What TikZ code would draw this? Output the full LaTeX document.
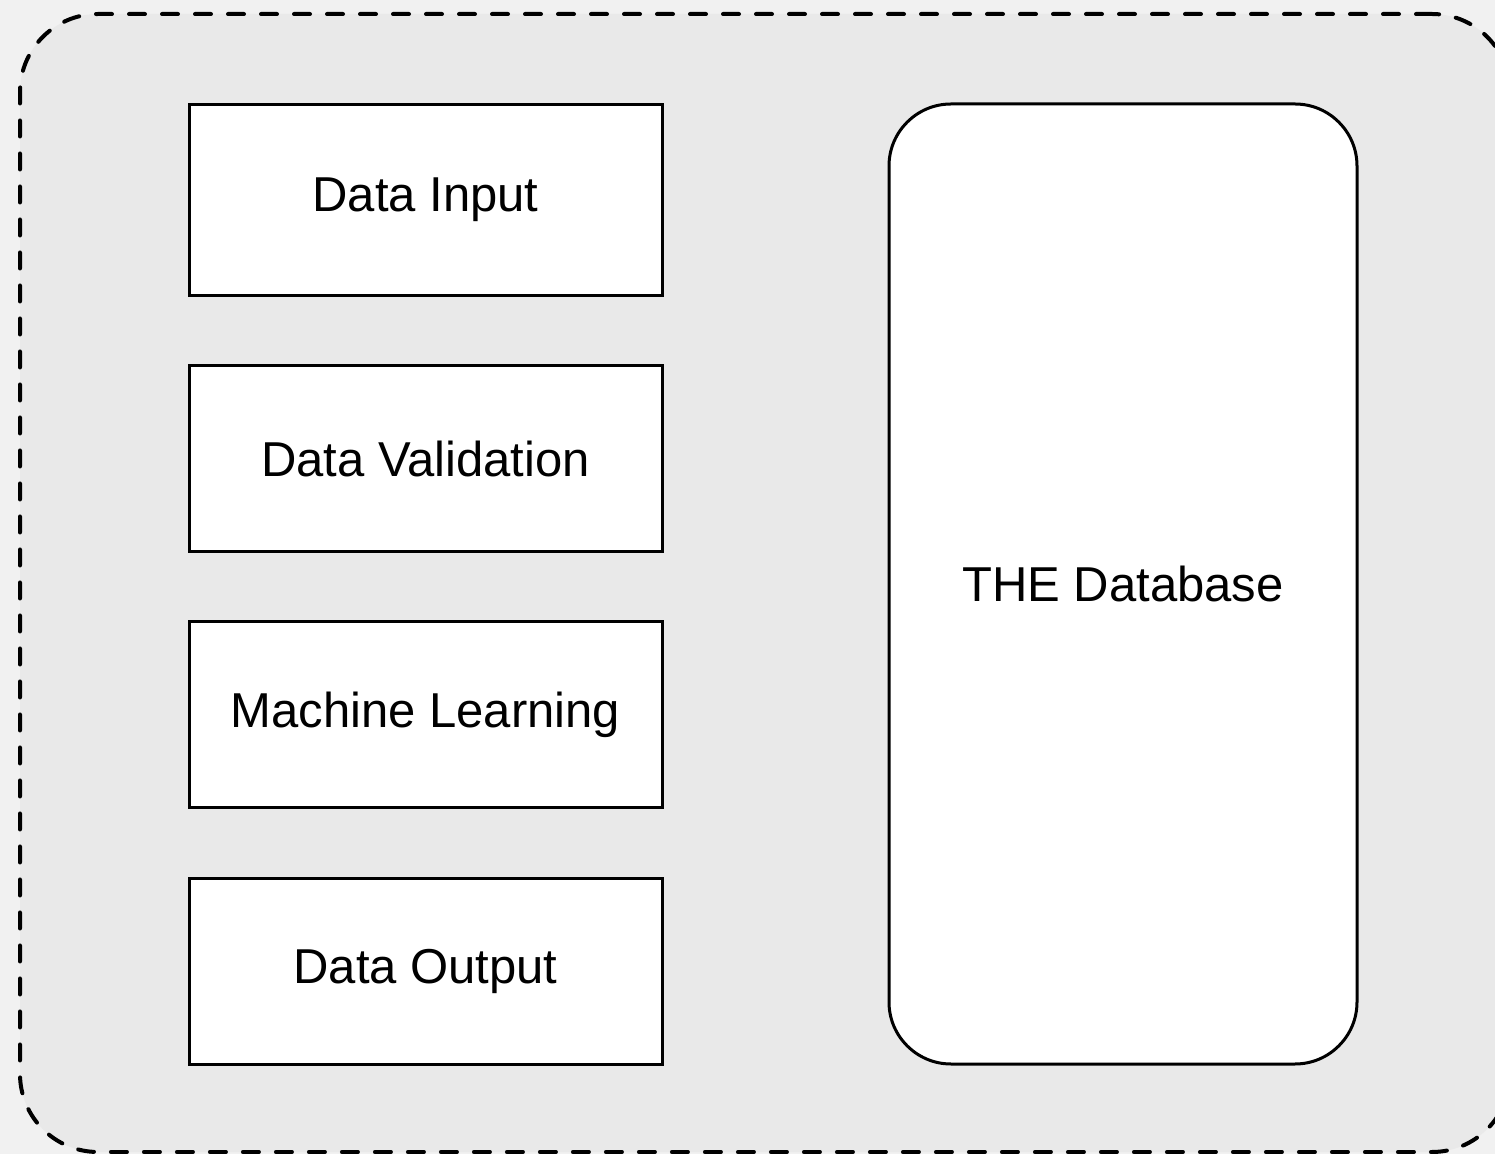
\documentclass[tikz,border=0pt]{standalone}
\usepackage{fontspec}
\setmainfont{Liberation Sans}
\definecolor{pagebg}{HTML}{F1F1F1}
\definecolor{panelbg}{HTML}{E9E9E9}
\tikzset{
  panel/.style={draw=black, fill=panelbg, line width=2pt, line cap=round,
    dash pattern=on 8pt off 8.5pt, rounded corners=39pt,
    inner sep=0pt, outer sep=0pt},
  stagebox/.style={draw=black, fill=white, line width=1.5pt,
    minimum width=236.5pt, inner sep=0pt, outer sep=0pt,
    font=\fontsize{24.5}{29}\selectfont},
  dbbox/.style={draw=black, fill=white, line width=1.5pt,
    rounded corners=31pt, minimum width=234pt, minimum height=480pt,
    inner sep=0pt, outer sep=0pt, font=\fontsize{24.5}{29}\selectfont},
}
\begin{document}
\begin{tikzpicture}[x=0.5pt, y=-0.5pt]
  % page and canvas
  \fill[pagebg] (0,0) rectangle (1495,1154);
  \useasboundingbox (0,0) rectangle (1495,1154);
  % dashed container
  \node[panel, minimum width=745pt, minimum height=569pt] (frame) at (765,583) {};
  % processing stages
  \node[stagebox, minimum height=95.5pt] (input) at (425.5,200) {Data Input};
  \node[stagebox, minimum height=93pt] (valid) at (425.5,458.5) {Data Validation};
  \node[stagebox, minimum height=93pt] (ml) at (425.5,714.5) {Machine Learning};
  \node[stagebox, minimum height=93pt] (output) at (425.5,971) {Data Output};
  % storage
  \node[dbbox] (db) at (1123,584) {THE Database};
\end{tikzpicture}
\end{document}
